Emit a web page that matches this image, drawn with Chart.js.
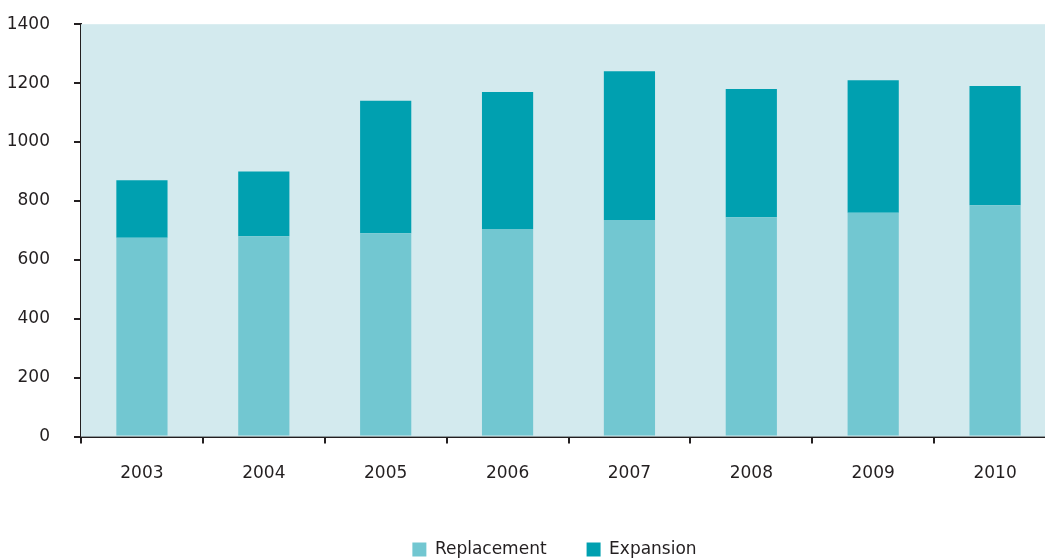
<!DOCTYPE html>
<html>
<head>
<meta charset="utf-8">
<script src="https://cdn.jsdelivr.net/npm/chart.js@4"></script>
<style>
  html, body { margin: 0; padding: 0; background: #fff; overflow: hidden; }
  canvas { display: block; margin-top: -10px; }
</style>
</head>
<body>
<canvas id="chart" width="1056" height="569"></canvas>
<script>
const years = ['2003', '2004', '2005', '2006', '2007', '2008', '2009', '2010'];
const replacement = [675, 680, 690, 705, 735, 745, 760, 785];
const expansion = [195, 220, 450, 465, 505, 435, 450, 405];
const yTicks = [0, 200, 400, 600, 800, 1000, 1200, 1400];

// light blue panel behind the bars
const plotBg = {
  id: 'plotBg',
  beforeDatasetsDraw(chart) {
    const { ctx, chartArea: a } = chart;
    ctx.save();
    ctx.fillStyle = '#d3eaee';
    ctx.fillRect(a.left, a.top, a.right - a.left, a.bottom - a.top);
    ctx.restore();
  }
};

// nudge the legend a little to the left
const legendShift = {
  id: 'legendShift',
  afterLayout(chart) {
    chart.legend.left -= 14;
    chart.legend.right -= 14;
  }
};

const ink = '#231f20';
const font = { family: 'DejaVu Sans', size: 17 };

new Chart(document.getElementById('chart').getContext('2d'), {
  type: 'bar',
  data: {
    labels: years,
    datasets: [
      { label: 'Replacement', data: replacement, backgroundColor: '#72c7d1', borderWidth: 0,
        barPercentage: 0.42, categoryPercentage: 1 },
      { label: 'Expansion', data: expansion, backgroundColor: '#00a0b0', borderWidth: 0,
        barPercentage: 0.42, categoryPercentage: 1 }
    ]
  },
  options: {
    responsive: false,
    animation: false,
    layout: { padding: { top: 0, left: 0, right: 0, bottom: -9 } },
    plugins: {
      tooltip: { enabled: false },
      legend: {
        position: 'bottom',
        fullSize: false,
        labels: { color: ink, font: { family: 'DejaVu Sans', size: 17 }, boxWidth: 14, boxHeight: 14, padding: 40 }
      }
    },
    scales: {
      x: {
        stacked: true,
        border: { color: ink, width: 2 },
        grid: { color: ink, lineWidth: 2, drawOnChartArea: false, tickLength: 7, offset: true },
        ticks: { color: ink, font: font, padding: 20 },
        afterFit: (axis) => { axis.height -= 3; }
      },
      y: {
        stacked: true,
        min: 0,
        max: 1400,
        afterBuildTicks: (axis) => { axis.ticks = yTicks.map(v => ({ value: v })); },
        border: { color: ink, width: 2 },
        grid: { color: ink, lineWidth: 2, drawOnChartArea: false, tickLength: 7 },
        ticks: { color: ink, font: font, padding: 24, callback: (v) => String(v) },
        afterFit: (axis) => { axis.width = 81; }
      }
    }
  },
  plugins: [plotBg, legendShift]
});
</script>
</body>
</html>
